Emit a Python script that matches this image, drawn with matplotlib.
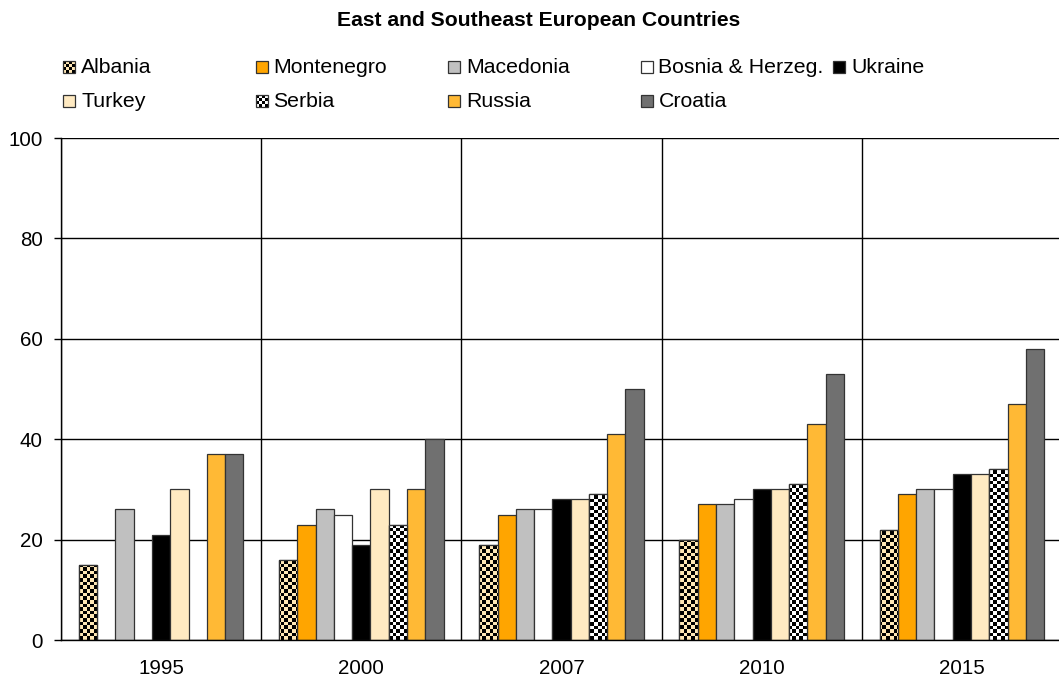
import numpy as np
import matplotlib
matplotlib.use("Agg")
import matplotlib.pyplot as plt
from matplotlib.colors import ListedColormap
from matplotlib.patches import Rectangle

plt.rcParams['font.family'] = ['Liberation Sans', 'DejaVu Sans']

years = ['1995', '2000', '2007', '2010', '2015']
countries = ['Albania', 'Montenegro', 'Macedonia', 'Bosnia & Herzeg.', 'Ukraine',
             'Turkey', 'Serbia', 'Russia', 'Croatia']

albania = [15, 16, 19, 20, 22]
montenegro = [np.nan, 23, 25, 27, 29]
macedonia = [26, 26, 26, 27, 30]
bosnia = [np.nan, 25, 26, 28, 30]
ukraine = [21, 19, 28, 30, 33]
turkey = [30, 30, 28, 30, 33]
serbia = [np.nan, 23, 29, 31, 34]
russia = [37, 30, 41, 43, 47]
croatia = [37, 40, 50, 53, 58]

series = [albania, montenegro, macedonia, bosnia, ukraine, turkey, serbia, russia, croatia]

# fill colour, checker pattern on/off
fills = ['#FFE7B5', '#FFA500', '#C0C0C0', '#FFFFFF', '#000000',
         '#FFEAC2', '#FFFFFF', '#FFB935', '#707070']
checker = [True, False, False, False, False, False, True, False, False]

W, H = 1059, 683
fig = plt.figure(figsize=(W / 100, H / 100), dpi=100)
ax = fig.add_axes([61 / W, 1 - 640 / H, 1001 / W, 502 / H])

x = np.arange(len(years))
bw = 0.0913

# checkerboard image (cell ~3.6 px), clipped to bars later
ncol, nrow = int(1001 / 3.6), int(502 / 3.6)
board = (np.add.outer(np.arange(nrow), np.arange(ncol)) % 2).astype(float)

for j, vals in enumerate(series):
    pos = x + 0.5 + (j - 4) * bw
    bars = ax.bar(pos, vals, width=bw, color=fills[j], edgecolor='#333333',
                  linewidth=0.9, zorder=2)
    if checker[j]:
        cmap = ListedColormap([fills[j], '#000000'])
        for b, v in zip(bars, vals):
            if np.isnan(v):
                continue
            im = ax.imshow(board, cmap=cmap, extent=(0, 5, 0, 100), origin='lower',
                           aspect='auto', interpolation='nearest', zorder=2.1)
            im.set_clip_path(b)
        ax.bar(pos, vals, width=bw, fill=False, edgecolor='#333333',
               linewidth=0.9, zorder=2.2)

ax.set_xlim(0, 5)
ax.set_ylim(0, 100)
ax.set_yticks(np.arange(0, 101, 20))
ax.set_xticks(x + 0.5)
ax.set_xticklabels(years)
ax.set_xticks(np.arange(0, 6), minor=True)
ax.tick_params(axis='x', which='both', length=0, pad=14, labelsize=14.8)
ax.tick_params(axis='y', length=5, width=1, pad=8, labelsize=14.8, direction='out')
ax.set_axisbelow(True)
ax.yaxis.grid(True, color='black', linewidth=1)
ax.xaxis.grid(True, which='minor', color='black', linewidth=1)
ax.xaxis.grid(False, which='major')
for s in ['top', 'right']:
    ax.spines[s].set_visible(False)
ax.spines['left'].set_linewidth(1)
ax.spines['bottom'].set_linewidth(1)

fig.text(539 / W, 1 - 20 / H, 'East and Southeast European Countries',
         ha='center', va='center', fontsize=15.2, fontweight='bold')

# legend, laid out like the original (5 fixed-width columns)
col_x = [63, 255.5, 448, 640.5, 833]
row_base = [73, 107]
msize = 12
for k, name in enumerate(countries):
    cx = col_x[k % 5]
    by = row_base[k // 5]
    x0, y0 = cx / W, 1 - by / H
    if checker[k]:
        n = 4
        c = msize / n
        for a in range(n):
            for b in range(n):
                col = '#000000' if (a + b) % 2 else fills[k]
                fig.add_artist(Rectangle(((cx + a * c) / W, 1 - (by - b * c) / H),
                                         c / W, c / H, facecolor=col,
                                         edgecolor='none', transform=fig.transFigure))
        fig.add_artist(Rectangle((x0, y0), msize / W, msize / H, fill=False,
                                 edgecolor='#333333', linewidth=0.9,
                                 transform=fig.transFigure))
    else:
        fig.add_artist(Rectangle((x0, y0), msize / W, msize / H, facecolor=fills[k],
                                 edgecolor='#333333', linewidth=0.9,
                                 transform=fig.transFigure))
    fig.text((cx + 18) / W, y0, name, ha='left', va='baseline', fontsize=15.3)

fig.savefig('out.png', dpi=100)
